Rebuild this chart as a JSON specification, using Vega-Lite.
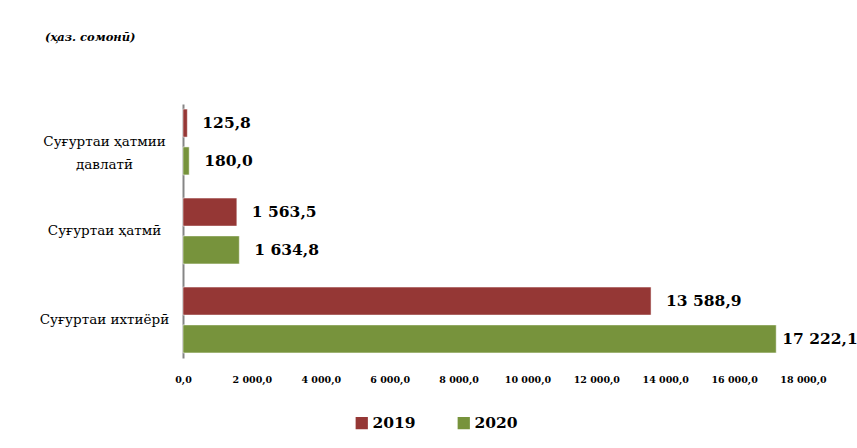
{
  "$schema": "https://vega.github.io/schema/vega-lite/v6.json",
  "width": 620,
  "height": 254,
  "autosize": "none",
  "padding": {"left": 183, "top": 104, "right": 54, "bottom": 90},
  "config": {
    "locale": {"number": {"decimal": ",", "thousands": " ", "grouping": [3], "currency": ["", ""]}},
    "view": {"stroke": null},
    "font": "DejaVu Serif"
  },
  "title": {
    "text": "(ҳаз. сомонӣ)",
    "anchor": "start",
    "frame": "group",
    "dx": -138,
    "offset": 61,
    "fontSize": 11.5,
    "fontStyle": "italic",
    "fontWeight": "bold",
    "font": "DejaVu Serif",
    "color": "#000"
  },
  "data": {
    "values": [
      {"category": "Суғуртаи ҳатмии давлатӣ", "year": "2019", "value": 125.8},
      {"category": "Суғуртаи ҳатмии давлатӣ", "year": "2020", "value": 180.0},
      {"category": "Суғуртаи ҳатмӣ", "year": "2019", "value": 1563.5},
      {"category": "Суғуртаи ҳатмӣ", "year": "2020", "value": 1634.8},
      {"category": "Суғуртаи ихтиёрӣ", "year": "2019", "value": 13588.9},
      {"category": "Суғуртаи ихтиёрӣ", "year": "2020", "value": 17222.1}
    ]
  },
  "encoding": {
    "y": {
      "field": "category",
      "type": "nominal",
      "sort": ["Суғуртаи ҳатмии давлатӣ", "Суғуртаи ҳатмӣ", "Суғуртаи ихтиёрӣ"],
      "scale": {"paddingInner": 0.26, "paddingOuter": 0.057},
      "axis": {
        "title": null,
        "ticks": false,
        "domainColor": "#868686",
        "domainWidth": 2,
        "labelAlign": "center",
        "labelPadding": 79,
        "labelFont": "DejaVu Serif",
        "labelFontSize": 13.5,
        "labelColor": "#000",
        "labelLimit": 250,
        "labelLineHeight": 23,
        "labelExpr": "datum.label == 'Суғуртаи ҳатмии давлатӣ' ? ['Суғуртаи ҳатмии', 'давлатӣ'] : datum.label"
      }
    },
    "x": {
      "field": "value",
      "type": "quantitative",
      "scale": {"domain": [0, 18000]},
      "axis": {
        "title": null,
        "domain": false,
        "ticks": false,
        "grid": false,
        "labelOverlap": false,
        "labelFlush": false,
        "values": [0, 2000, 4000, 6000, 8000, 10000, 12000, 14000, 16000, 18000],
        "format": ",.1f",
        "labelFont": "DejaVu Serif",
        "labelFontSize": 9.5,
        "labelFontWeight": "bold",
        "labelColor": "#000",
        "labelPadding": 16
      }
    },
    "yOffset": {
      "field": "year",
      "type": "nominal",
      "sort": ["2019", "2020"],
      "scale": {"paddingInner": 0.26}
    }
  },
  "layer": [
    {
      "mark": {"type": "bar", "stroke": "#ffffff", "strokeWidth": 0.5},
      "encoding": {
        "color": {
          "field": "year",
          "type": "nominal",
          "scale": {"domain": ["2019", "2020"], "range": ["#953735", "#77933C"]},
          "legend": {
            "orient": "none",
            "legendX": 171,
            "legendY": 311,
            "direction": "horizontal",
            "title": null,
            "symbolType": "square",
            "symbolSize": 150,
            "symbolStrokeWidth": 0,
            "labelFont": "DejaVu Serif",
            "labelFontSize": 15.5,
            "labelFontWeight": "bold",
            "labelColor": "#000",
            "labelOffset": 3,
            "columnPadding": 40
          }
        }
      }
    },
    {
      "transform": [{"filter": "datum.value < 17000"}],
      "mark": {"type": "text", "align": "left", "dx": 15, "fontSize": 15.5, "fontWeight": "bold", "font": "DejaVu Serif", "color": "#000"},
      "encoding": {
        "text": {"field": "value", "type": "quantitative", "format": ",.1f"}
      }
    },
    {
      "transform": [{"filter": "datum.value >= 17000"}],
      "mark": {"type": "text", "align": "left", "dx": 6, "fontSize": 15.5, "fontWeight": "bold", "font": "DejaVu Serif", "color": "#000"},
      "encoding": {
        "text": {"field": "value", "type": "quantitative", "format": ",.1f"}
      }
    }
  ]
}
